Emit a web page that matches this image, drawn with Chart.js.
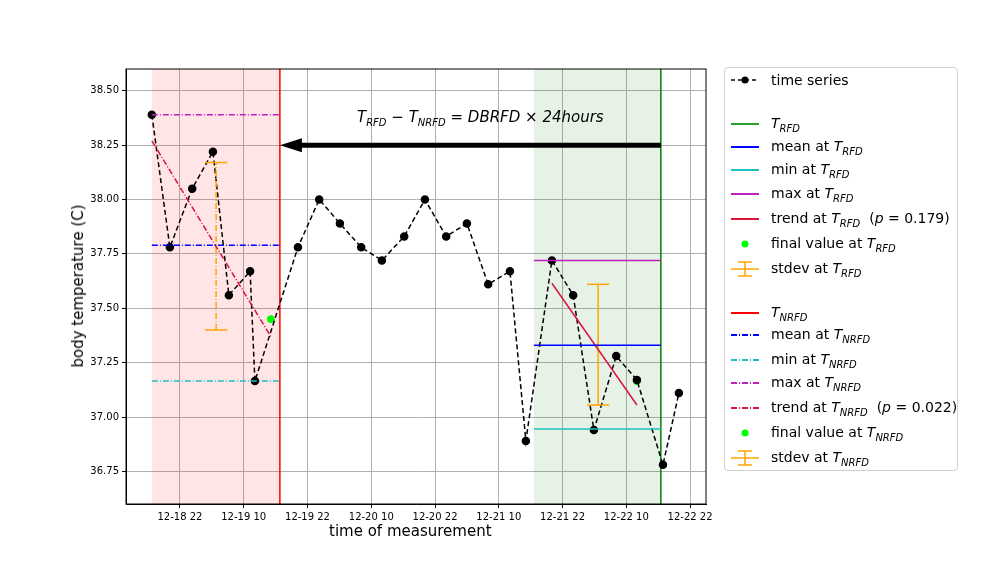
<!DOCTYPE html>
<html>
<head>
<meta charset="utf-8">
<script src="https://cdn.jsdelivr.net/npm/chart.js@4"></script>
<style>
  body { margin: 0; background: #fff; font-family: "DejaVu Sans", sans-serif; }
  #wrap { position: relative; width: 1008px; height: 576px; }
  .lbl { position: absolute; font-size: 15px; color: #000; white-space: nowrap; }
  #legend { position: absolute; left: 724px; top: 67px; width: 232px; height: 402px;
            border: 1px solid #d0d0d0; border-radius: 4px; font-size: 14px; }
  .row { position: absolute; left: 0; height: 20px; display: flex; align-items: center; }
  .row svg { margin-left: 4px; width: 32px; height: 20px; }
  .row span { margin-left: 10px; white-space: nowrap; }
  i sub { font-size: 10px; }
</style>
</head>
<body>
<div id="wrap">
  <canvas id="myChart" width="1008" height="576"></canvas>
  <div class="lbl" style="left:357px;top:108px;font-style:italic;">T<sub style="font-size:10px">RFD</sub> − T<sub style="font-size:10px">NRFD</sub> = DBRFD × 24hours</div>
  <div class="lbl" style="left:329px;top:522px;">time of measurement</div>
  <div class="lbl" style="left:-garbage;"></div>
  <div class="lbl" style="left:78px;top:286px;transform:translate(-50%,-50%) rotate(-90deg);">body temperature (C)</div>
  <div id="legend"></div>
</div>
<script>
// hours counted from 12-18 00:00
const times = [16.7, 20.1, 24.3, 28.2, 31.2, 35.2, 36.1, 44.2, 48.2, 52.1, 56.1, 60.0, 64.2,
  68.1, 72.1, 76.0, 80.0, 84.1, 87.1, 92.0, 96.0, 99.9, 104.1, 108.0, 112.9, 115.9];
const temps = [38.39, 37.78, 38.05, 38.22, 37.56, 37.67, 37.165, 37.78, 38.0, 37.89, 37.78, 37.72, 37.83,
  38.0, 37.83, 37.89, 37.61, 37.67, 36.89, 37.72, 37.56, 36.94, 37.28, 37.17, 36.78, 37.11];
const xTicks = [22, 34, 46, 58, 70, 82, 94, 106, 118];
const yTicks = [36.75, 37.0, 37.25, 37.5, 37.75, 38.0, 38.25, 38.5];

const rfdWindow = [16.7, 40.8];     // first 24 h, ends at T_RFD
const nrfdWindow = [88.6, 112.5];   // last 24 h, ends at T_NRFD
const rfdStats = { mean: 37.79, min: 37.165, max: 38.39 };
const nrfdStats = { mean: 37.33, min: 36.945, max: 37.72 };
const rfdTrend = [[16.7, 38.27], [39.1, 37.37]];
const nrfdTrend = [[92.0, 37.615], [108.0, 37.055]];
const rfdFinal = [39.1, 37.45];
const nrfdFinal = [108.0, 37.165];
const rfdStdev = { x: 28.8, lo: 37.40, hi: 38.17 };
const nrfdStdev = { x: 100.7, lo: 37.055, hi: 37.61 };
const capHalf = 2.1;

const DD = [6, 2, 1, 2];
function seg(pts, color, dash, width) {
  return { type: "line", data: pts.map(p => ({ x: p[0], y: p[1] })), borderColor: color,
    borderDash: dash || [], borderWidth: width || 1.5, pointRadius: 0, fill: false, tension: 0 };
}
function hline(win, y, color, dash) { return seg([[win[0], y], [win[1], y]], color, dash); }
function stdevSets(s, dash) {
  return [
    seg([[s.x, s.lo], [s.x, s.hi]], "orange", dash),
    seg([[s.x - capHalf, s.lo], [s.x + capHalf, s.lo]], "orange"),
    seg([[s.x - capHalf, s.hi], [s.x + capHalf, s.hi]], "orange"),
  ];
}

const datasets = [
  hline(rfdWindow, rfdStats.mean, "#0000ff", DD),
  hline(rfdWindow, rfdStats.min, "#20c0c0", DD),
  hline(rfdWindow, rfdStats.max, "#c020c0", DD),
  seg(rfdTrend, "crimson", DD),
  ...stdevSets(rfdStdev, DD),
  hline(nrfdWindow, nrfdStats.mean, "#0000ff"),
  hline(nrfdWindow, nrfdStats.min, "#20c0c0"),
  hline(nrfdWindow, nrfdStats.max, "#c020c0"),
  seg(nrfdTrend, "crimson"),
  ...stdevSets(nrfdStdev),
  { type: "line", data: times.map((t, i) => ({ x: t, y: temps[i] })), borderColor: "#000",
    backgroundColor: "#000", borderDash: [5, 3], borderWidth: 1.5, pointRadius: 3.5, tension: 0 },
  { type: "scatter", data: [{ x: rfdFinal[0], y: rfdFinal[1] }, { x: nrfdFinal[0], y: nrfdFinal[1] }],
    backgroundColor: "#00ff00", borderColor: "#00ff00", pointRadius: 3.5 },
];

const decor = {
  id: "decor",
  beforeDatasetsDraw(chart) {
    const { ctx, chartArea: a, scales: { x, y } } = chart;
    ctx.save();
    ctx.fillStyle = "rgba(255,0,0,0.1)";
    ctx.fillRect(x.getPixelForValue(rfdWindow[0]), a.top, x.getPixelForValue(rfdWindow[1]) - x.getPixelForValue(rfdWindow[0]), a.bottom - a.top);
    ctx.fillStyle = "rgba(0,128,0,0.1)";
    ctx.fillRect(x.getPixelForValue(nrfdWindow[0]), a.top, x.getPixelForValue(nrfdWindow[1]) - x.getPixelForValue(nrfdWindow[0]), a.bottom - a.top);
    ctx.lineWidth = 1.5;
    ctx.strokeStyle = "red";
    let px = x.getPixelForValue(rfdWindow[1]);
    ctx.beginPath(); ctx.moveTo(px, a.top); ctx.lineTo(px, a.bottom); ctx.stroke();
    ctx.strokeStyle = "green";
    px = x.getPixelForValue(nrfdWindow[1]);
    ctx.beginPath(); ctx.moveTo(px, a.top); ctx.lineTo(px, a.bottom); ctx.stroke();
    ctx.restore();
  },
  afterDatasetsDraw(chart) {
    const { ctx, scales: { x, y } } = chart;
    const x0 = x.getPixelForValue(nrfdWindow[1]), x1 = x.getPixelForValue(rfdWindow[1]);
    const py = y.getPixelForValue(38.25);
    ctx.save();
    ctx.strokeStyle = "#000"; ctx.fillStyle = "#000"; ctx.lineWidth = 5;
    ctx.beginPath(); ctx.moveTo(x0, py); ctx.lineTo(x1 + 18, py); ctx.stroke();
    ctx.beginPath(); ctx.moveTo(x1, py); ctx.lineTo(x1 + 22, py - 7); ctx.lineTo(x1 + 22, py + 7); ctx.closePath(); ctx.fill();
    ctx.restore();
  },
};

const ctx = document.getElementById("myChart").getContext("2d");
new Chart(ctx, {
  type: "scatter",
  data: { datasets },
  plugins: [decor],
  options: {
    responsive: false, animation: false,
    layout: { padding: { left: 0, right: 302, top: 69, bottom: 0 } },
    plugins: { legend: { display: false }, tooltip: { enabled: false } },
    scales: {
      x: {
        type: "linear", min: 11.84, max: 121.0,
        afterBuildTicks: s => { s.ticks = xTicks.map(v => ({ value: v })); },
        afterFit: s => { s.height = 72; },
        ticks: { font: { size: 10, family: "DejaVu Sans" }, color: "#000", maxRotation: 0,
          callback: v => "12-" + (18 + Math.floor(v / 24)) + " " + (v % 24) },
        grid: { color: "#b0b0b0", tickColor: "#000", tickLength: 4 },
        border: { color: "#000" },
      },
      y: {
        min: 36.6, max: 38.6,
        afterBuildTicks: s => { s.ticks = yTicks.map(v => ({ value: v })); },
        afterFit: s => { s.width = 126; },
        ticks: { font: { size: 10, family: "DejaVu Sans" }, color: "#000", callback: v => v.toFixed(2) },
        grid: { color: "#b0b0b0", tickColor: "#000", tickLength: 4 },
        border: { color: "#000" },
      },
    },
  },
  plugins: [decor, {
    id: "frame",
    afterDraw(chart) {
      const { ctx, chartArea: a } = chart;
      ctx.save(); ctx.strokeStyle = "#000"; ctx.lineWidth = 1;
      ctx.strokeRect(a.left, a.top, a.right - a.left, a.bottom - a.top); ctx.restore();
    },
  }],
});

// legend
const T = s => '<i>T<sub>' + s + '</sub></i>';
const line = (c, dash) => '<svg><line x1="2" y1="10" x2="30" y2="10" stroke="' + c + '" stroke-width="2"' + (dash ? ' stroke-dasharray="' + dash + '"' : '') + '/></svg>';
const dot = c => '<svg><circle cx="16" cy="10" r="3.5" fill="' + c + '"/></svg>';
const errb = '<svg><g stroke="orange" stroke-width="1.5"><line x1="2" y1="10" x2="30" y2="10"/><line x1="16" y1="3" x2="16" y2="17"/><line x1="9" y1="3" x2="23" y2="3"/><line x1="9" y1="17" x2="23" y2="17"/></g></svg>';
const ts = '<svg><line x1="2" y1="10" x2="30" y2="10" stroke="#000" stroke-width="1.5" stroke-dasharray="4,3"/><circle cx="16" cy="10" r="3.5" fill="#000"/></svg>';
const dd = "6,2,1,2";
const rows = [
  [79, ts, "time series"],
  [123, line("#2ca02c"), T("RFD")],
  [146, line("#0000ff"), "mean at " + T("RFD")],
  [169, line("#20c0c0"), "min at " + T("RFD")],
  [193, line("#c020c0"), "max at " + T("RFD")],
  [218, line("crimson"), "trend at " + T("RFD") + " &nbsp;(<i>p</i> = 0.179)"],
  [243, dot("#00ff00"), "final value at " + T("RFD")],
  [268, errb, "stdev at " + T("RFD")],
  [312, line("red"), T("NRFD")],
  [334, line("#0000ff", dd), "mean at " + T("NRFD")],
  [359, line("#20c0c0", dd), "min at " + T("NRFD")],
  [382, line("#c020c0", dd), "max at " + T("NRFD")],
  [407, line("crimson", dd), "trend at " + T("NRFD") + " &nbsp;(<i>p</i> = 0.022)"],
  [432, dot("#00ff00"), "final value at " + T("NRFD")],
  [457, errb, "stdev at " + T("NRFD")],
];
document.getElementById("legend").innerHTML = rows.map(r =>
  '<div class="row" style="top:' + (r[0] - 67 - 10) + 'px">' + r[1] + '<span>' + r[2] + '</span></div>').join("");
</script>
</body>
</html>
